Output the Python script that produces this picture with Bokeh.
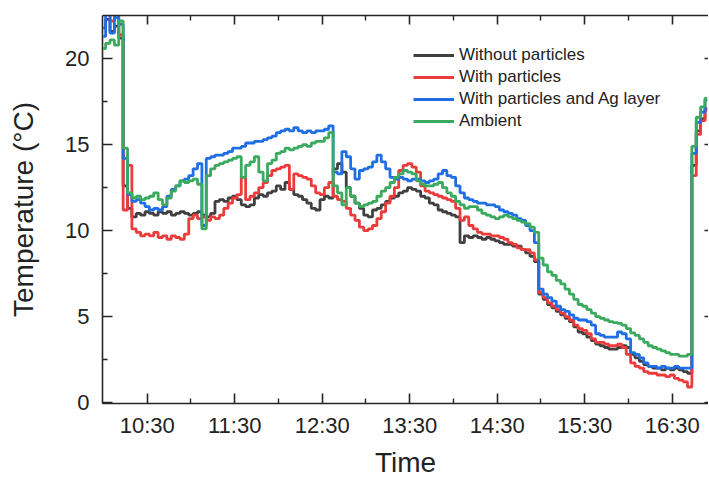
from bokeh.plotting import figure
from bokeh.models import LinearAxis, FixedTicker, Legend, LegendItem, Range1d
from bokeh.embed import file_html
from bokeh.resources import INLINE

# ---- data ----
start_time = "10:00"
step_minutes = 3

without_particles = [
    21.8, 22.3, 21.6, 21.9, 21.2, 12.6, 11.3, 10.8, 11.0, 10.9,
    11.1, 11.0, 10.9, 11.1, 11.0, 11.1, 10.9, 11.0, 11.1, 11.0,
    10.9, 11.0, 11.1, 10.9, 10.8, 11.0, 11.7, 11.8, 11.7, 11.9,
    12.0, 11.8, 11.5, 11.4, 11.5, 11.9, 12.1, 12.0, 12.2, 12.3,
    12.6, 12.4, 12.8, 12.4, 12.1, 12.0, 11.8, 11.6, 11.3, 11.2,
    11.8, 12.0, 11.9, 13.6, 13.9, 13.4, 12.5, 12.0, 11.6, 11.3,
    10.9, 10.8, 11.2, 11.3, 11.5, 11.7, 11.9, 12.0, 12.2, 12.3,
    12.5, 12.4, 12.3, 12.0, 11.9, 11.6, 11.5, 11.2, 11.1, 11.0,
    10.9, 10.8, 9.3, 9.7, 9.6, 9.7, 9.6, 9.5, 9.6, 9.5,
    9.4, 9.3, 9.2, 9.2, 9.1, 9.1, 8.9, 8.7, 8.5, 8.2,
    6.3, 6.0, 5.7, 5.5, 5.3, 5.1, 4.9, 4.7, 4.4, 4.1,
    4.0, 3.8, 3.6, 3.4, 3.3, 3.2, 3.1, 3.1, 3.2, 3.3,
    3.2, 2.8, 2.6, 2.4, 2.2, 2.1, 2.0, 2.0, 1.9, 2.0,
    1.9, 2.0, 1.9, 1.8, 1.7, 13.8, 15.8, 16.5, 17.1,
]
with_particles = [
    22.6, 23.0, 22.2, 22.8, 21.4, 11.2, 13.8, 10.1, 9.9, 9.7,
    9.8, 9.7, 9.9, 9.6, 9.7, 9.5, 9.7, 9.6, 9.5, 9.8,
    10.7, 10.9, 10.7, 10.8, 10.6, 10.8, 10.7, 10.9, 11.3, 11.6,
    11.9, 12.1, 13.1, 11.8, 12.0, 12.2, 12.5, 12.8, 13.2, 13.5,
    13.6, 13.7, 13.8, 12.4, 13.3, 13.2, 13.1, 13.0, 12.6, 12.2,
    12.1, 12.5, 12.8, 12.0, 11.8, 11.7, 11.3, 10.9, 10.6, 10.2,
    10.0, 10.1, 10.3, 10.7, 11.1, 11.6, 12.0, 12.5, 13.5, 13.8,
    13.9, 13.7, 13.4, 12.6, 12.3, 12.2, 12.1, 12.0, 11.9, 11.8,
    11.7, 11.3, 10.6, 10.8, 10.3, 10.1, 9.9, 9.8, 9.8, 9.7,
    9.7, 9.6, 9.5, 9.3, 9.2, 9.0, 8.9, 8.9, 8.7, 8.3,
    6.4, 6.1, 5.8, 5.6, 5.4, 5.2, 5.0, 4.8, 4.5, 4.3,
    4.2, 4.0, 3.7, 3.5, 3.5, 3.4, 3.3, 3.3, 3.4, 3.2,
    2.8, 2.3, 2.1, 2.0, 1.8, 1.7, 1.7, 1.6, 1.6, 1.5,
    1.6, 1.4, 1.3, 1.2, 0.9, 13.2, 15.6, 16.4, 17.0,
]
with_particles_ag = [
    21.3, 22.8, 21.5, 22.4, 22.0, 14.2, 12.1, 11.7, 11.8, 11.6,
    11.4, 11.2, 11.3, 11.2, 11.4, 12.0, 12.4, 12.6, 12.9, 13.0,
    13.2, 13.6, 13.9, 10.3, 14.2, 14.3, 14.4, 14.4, 14.5, 14.6,
    14.8, 14.8, 14.9, 15.1, 15.1, 15.2, 15.2, 15.3, 15.4, 15.5,
    15.7, 15.8, 15.9, 15.8, 16.0, 15.8, 15.7, 15.8, 15.7, 15.8,
    15.8, 15.9, 16.1, 13.4, 13.3, 14.6, 14.3, 13.6, 13.0, 13.5,
    13.6, 13.7, 14.0, 14.4, 14.0, 13.6, 13.1, 13.0, 13.1, 13.0,
    12.9, 13.0, 13.0, 12.9, 12.8, 12.9, 13.0, 13.3, 13.5, 13.2,
    13.1, 12.6, 12.2, 11.9, 11.8, 11.7, 11.6, 11.6, 11.5, 11.5,
    11.4, 11.2, 11.1, 11.0, 10.9, 10.7, 10.6, 10.3, 10.0, 9.3,
    6.6, 6.3, 6.1, 5.9, 5.6, 5.4, 5.3, 5.1, 4.9, 4.8,
    4.8, 4.7, 4.5, 4.0, 3.9, 3.8, 3.8, 3.8, 4.1, 4.0,
    3.7, 2.9, 2.8, 2.6, 2.3, 2.1, 2.1, 2.0, 2.1, 2.0,
    2.0, 2.1, 2.0, 2.0, 2.0, 14.5, 16.3, 16.9, 17.6,
]
ambient = [
    20.6, 20.9, 21.1, 20.8, 22.2, 14.8, 12.2, 11.9, 12.0, 11.8,
    11.9, 12.0, 12.2, 11.8, 11.5, 11.9, 12.3, 12.6, 12.9, 12.8,
    12.9, 13.0, 12.7, 10.1, 13.2, 13.6, 13.8, 13.9, 14.0, 14.1,
    14.2, 14.3, 13.1, 13.8, 14.0, 14.3, 13.4, 12.9, 13.9, 14.1,
    14.5, 14.6, 14.8, 14.7, 14.8, 14.9, 15.0, 14.9, 15.1, 15.2,
    15.2, 15.4, 15.7, 12.6, 12.2, 11.5, 12.5, 12.0, 11.6, 11.4,
    11.5, 11.6, 11.7, 12.0, 12.3, 12.5, 12.8, 13.1, 13.3, 13.5,
    13.4, 13.3, 12.9, 12.7, 12.6, 12.6, 12.7, 12.8, 12.5, 12.2,
    12.0, 11.7, 11.5, 11.3, 11.4, 11.4, 11.2, 11.0, 10.9, 10.8,
    10.7, 10.8, 10.9, 10.8, 10.7, 10.6, 10.5, 10.4, 10.2, 9.9,
    8.4, 8.0, 7.6, 7.4, 7.1, 6.9, 6.6, 6.3, 6.0, 5.7,
    5.6, 5.4, 5.2, 5.0, 4.9, 4.8, 4.7, 4.65, 4.6, 4.5,
    4.3, 4.05, 3.9, 3.7, 3.5, 3.3, 3.2, 3.1, 3.0, 2.9,
    2.8, 2.8, 2.7, 2.7, 2.8, 14.9, 16.6, 17.2, 17.7,
]

series_names = ["Without particles", "With particles",
                "With particles and Ag layer", "Ambient"]
series_colors = ["#404040", "#ec3b3b", "#1f6ee6", "#3aaa5e"]

x_tick_labels = ["10:30", "11:30", "12:30", "13:30", "14:30", "15:30", "16:30"]
x_minor_labels = ["11:00", "12:00", "13:00", "14:00", "15:00", "16:00"]
y_ticks = [0, 5, 10, 15, 20]
y_minor_ticks = [2.5, 7.5, 12.5, 17.5]
x_label = "Time"
y_label = "Temperature (\u00b0C)"


def to_minutes(s):
    h, m = s.split(":")
    return int(h) * 60 + int(m)


t0 = to_minutes(start_time)
times = [t0 + i * step_minutes for i in range(len(without_particles))]
x_ticks = [to_minutes(s) for s in x_tick_labels]
x_minor = [to_minutes(s) for s in x_minor_labels]

FONT = "Liberation Sans"
TXT = "#222222"
AX = "#262626"

p = figure(frame_width=606, frame_height=388,
           x_range=Range1d(599.35, 1014.9), y_range=Range1d(-0.06, 22.52),
           output_backend="svg", toolbar_location=None,
           min_border_left=102, min_border_top=15, min_border_right=0,
           min_border_bottom=0)
p.outline_line_color = None
p.grid.visible = False
p.background_fill_color = "white"
p.border_fill_color = "white"


def style_axis(ax, labels=True):
    ax.axis_line_color = AX
    ax.axis_line_width = 1.6
    ax.major_tick_line_color = AX
    ax.minor_tick_line_color = AX
    ax.major_tick_line_width = 1.6
    ax.minor_tick_line_width = 1.4
    ax.major_tick_in = 10
    ax.major_tick_out = 0
    ax.minor_tick_in = 5
    ax.minor_tick_out = 0
    if labels:
        ax.major_label_text_font = FONT
        ax.major_label_text_font_size = "22px"
        ax.major_label_text_color = TXT
        ax.axis_label_text_font = FONT
        ax.axis_label_text_font_size = "28px"
        ax.axis_label_text_font_style = "normal"
        ax.axis_label_text_color = TXT
    else:
        ax.major_label_text_color = None
        ax.major_label_text_font_size = "0px"
        ax.major_label_standoff = 0


xt = FixedTicker(ticks=x_ticks, minor_ticks=x_minor)
yt = FixedTicker(ticks=y_ticks, minor_ticks=y_minor_ticks)

xa = p.xaxis[0]
xa.ticker = xt
xa.major_label_overrides = {t: s for t, s in zip(x_ticks, x_tick_labels)}
style_axis(xa)
xa.major_label_standoff = 9
xa.axis_label = x_label
xa.axis_label_standoff = 6

ya = p.yaxis[0]
ya.ticker = yt
style_axis(ya)
ya.major_label_standoff = 13
ya.axis_label = y_label
ya.axis_label_standoff = 23

top = LinearAxis(ticker=FixedTicker(ticks=x_ticks, minor_ticks=x_minor))
style_axis(top, labels=False)
top.major_tick_in = 9
p.add_layout(top, "above")

right = LinearAxis(ticker=FixedTicker(ticks=y_ticks, minor_ticks=[]))
style_axis(right, labels=False)
right.axis_line_color = None
right.major_tick_in = 4
p.add_layout(right, "right")

renderers = []
for vals, c in zip([without_particles, with_particles, with_particles_ag, ambient],
                   series_colors):
    r = p.step(times, vals, mode="center", line_color=c, line_width=2.8)
    renderers.append(r)

legend = Legend(items=[LegendItem(label=n, renderers=[r])
                       for n, r in zip(series_names, renderers)],
                location=(311, 271))
legend.border_line_color = None
legend.background_fill_alpha = 0
legend.label_text_font = FONT
legend.label_text_font_size = "17px"
legend.label_text_color = TXT
legend.glyph_width = 41
legend.glyph_height = 22
legend.label_height = 22
legend.label_standoff = 5
legend.spacing = 0
legend.padding = 0
legend.margin = 0
p.add_layout(legend, "center")

open("out.html", "w").write(file_html(p, INLINE))
